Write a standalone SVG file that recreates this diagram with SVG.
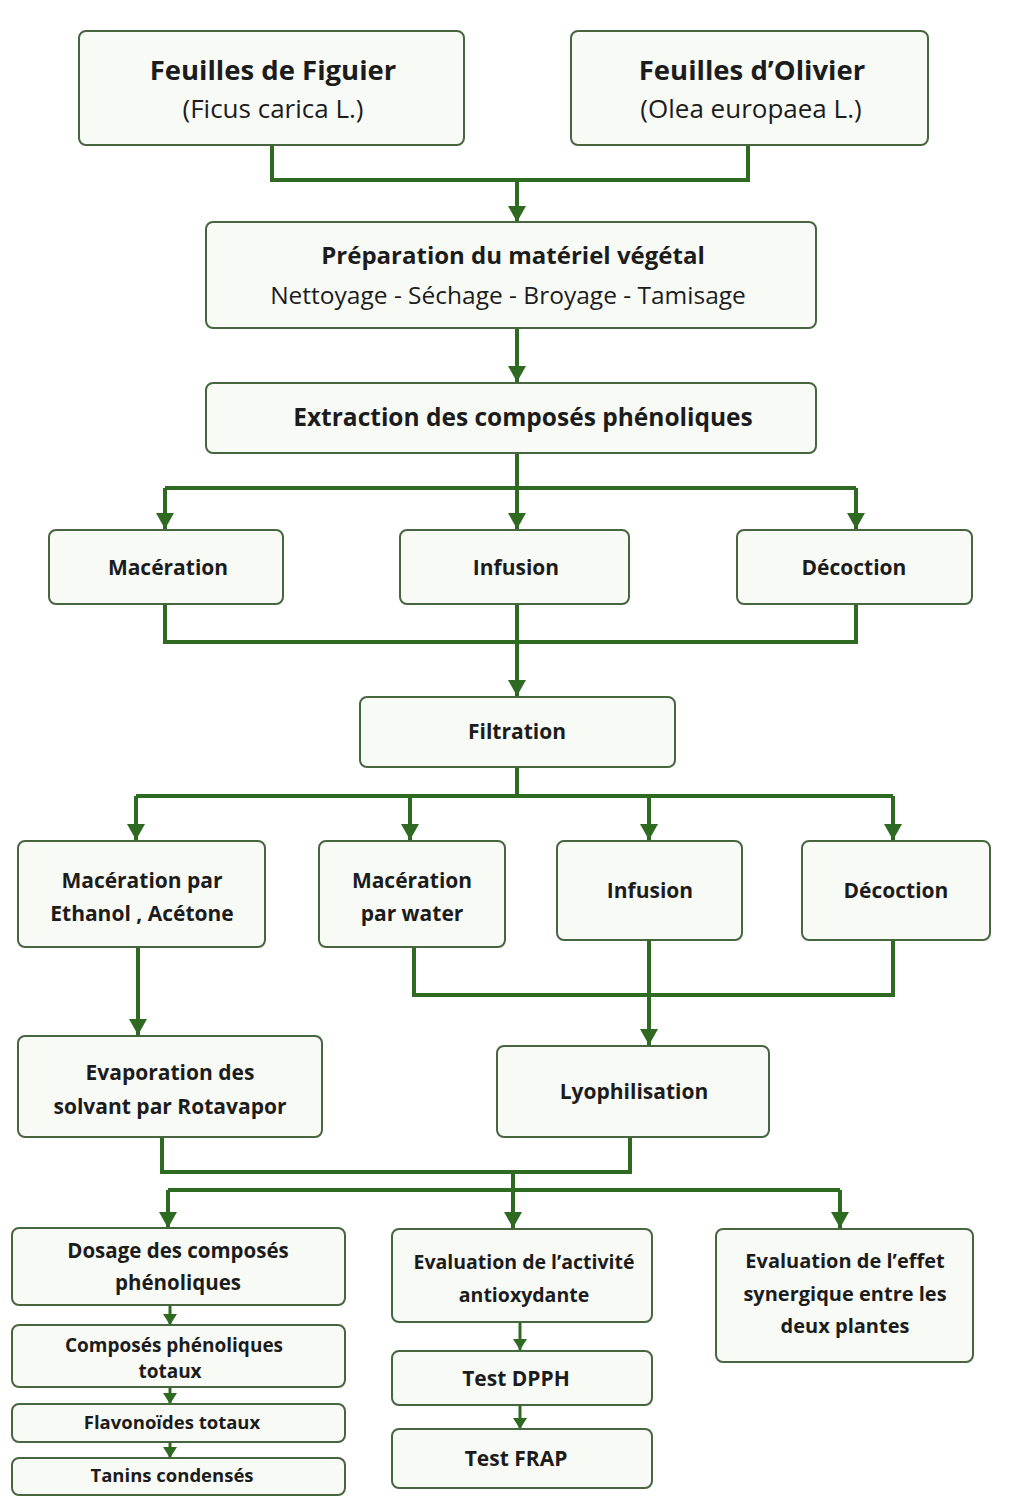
<svg xmlns="http://www.w3.org/2000/svg" width="1017" height="1497" viewBox="0 0 1017 1497">
<style>
.box{fill:#f8faf6;stroke:#476640;stroke-width:2}
.t{font-family:"Open Sans",Lato,"Liberation Sans",sans-serif;fill:#1c1c1c;text-anchor:middle}
.b{font-weight:bold}
.c{fill:none;stroke:#2f6a22;stroke-width:4}
.cs{fill:none;stroke:#2f6a22;stroke-width:3}
</style>
<defs>
<marker id="ah" markerUnits="userSpaceOnUse" markerWidth="16" markerHeight="18" viewBox="0 0 16 18" refX="16" refY="9" orient="auto"><path d="M0,0 L16,9 L0,18 z" fill="#2f6a22"/></marker>
<marker id="as" markerUnits="userSpaceOnUse" markerWidth="11" markerHeight="14" viewBox="0 0 11 14" refX="11" refY="7" orient="auto"><path d="M0,0 L11,7 L0,14 z" fill="#2f6a22"/></marker>
</defs>
<rect width="1017" height="1497" fill="#ffffff"/>
<g id="connectors">
<path class="c" d="M272,145 V180 H748 V145"/>
<path class="c" d="M517,180 V222" marker-end="url(#ah)"/>
<path class="c" d="M517,328 V382" marker-end="url(#ah)"/>
<path class="c" d="M517,453 V488"/>
<path class="c" d="M165,488 H856"/>
<path class="c" d="M165,488 V529" marker-end="url(#ah)"/>
<path class="c" d="M517,488 V529" marker-end="url(#ah)"/>
<path class="c" d="M856,488 V529" marker-end="url(#ah)"/>
<path class="c" d="M165,604 V642 H856 V604"/>
<path class="c" d="M517,604 V696" marker-end="url(#ah)"/>
<path class="c" d="M517,767 V796"/>
<path class="c" d="M136,796 H893"/>
<path class="c" d="M136,796 V840" marker-end="url(#ah)"/>
<path class="c" d="M410,796 V840" marker-end="url(#ah)"/>
<path class="c" d="M649,796 V840" marker-end="url(#ah)"/>
<path class="c" d="M893,796 V840" marker-end="url(#ah)"/>
<path class="c" d="M138,947 V1035" marker-end="url(#ah)"/>
<path class="c" d="M414,947 V995 H893 V940"/>
<path class="c" d="M649,940 V1045" marker-end="url(#ah)"/>
<path class="c" d="M162,1137 V1172 H630 V1137"/>
<path class="c" d="M513,1172 V1190"/>
<path class="c" d="M168,1190 H840"/>
<path class="c" d="M168,1190 V1228" marker-end="url(#ah)"/>
<path class="c" d="M513,1190 V1228" marker-end="url(#ah)"/>
<path class="c" d="M840,1190 V1228" marker-end="url(#ah)"/>
<path class="cs" d="M170,1305 V1325" marker-end="url(#as)"/>
<path class="cs" d="M170,1387 V1404" marker-end="url(#as)"/>
<path class="cs" d="M170,1442 V1458" marker-end="url(#as)"/>
<path class="cs" d="M520,1322 V1350" marker-end="url(#as)"/>
<path class="cs" d="M520,1405 V1429" marker-end="url(#as)"/>
</g>
<g id="figuier"><rect class="box" x="79" y="31" width="385" height="114" rx="7"/><text class="t b" x="273" y="80" font-size="27.5">Feuilles de Figuier</text><text class="t" x="273" y="118" font-size="26">(Ficus carica L.)</text></g>
<g id="olivier"><rect class="box" x="571" y="31" width="357" height="114" rx="7"/><text class="t b" x="752" y="80" font-size="27.5">Feuilles d’Olivier</text><text class="t" x="751" y="118" font-size="26">(Olea europaea L.)</text></g>
<g id="preparation"><rect class="box" x="206" y="222" width="610" height="106" rx="7"/><text class="t b" x="513" y="264" font-size="24">Préparation du matériel végétal</text><text class="t" x="508" y="304" font-size="24.5">Nettoyage - Séchage - Broyage - Tamisage</text></g>
<g id="extraction"><rect class="box" x="206" y="383" width="610" height="70" rx="7"/><text class="t b" x="523" y="426" font-size="24.5">Extraction des composés phénoliques</text></g>
<g id="maceration1"><rect class="box" x="49" y="530" width="234" height="74" rx="7"/><text class="t b" x="168" y="575" font-size="21">Macération</text></g>
<g id="infusion1"><rect class="box" x="400" y="530" width="229" height="74" rx="7"/><text class="t b" x="516" y="575" font-size="21">Infusion</text></g>
<g id="decoction1"><rect class="box" x="737" y="530" width="235" height="74" rx="7"/><text class="t b" x="854" y="575" font-size="21">Décoction</text></g>
<g id="filtration"><rect class="box" x="360" y="697" width="315" height="70" rx="7"/><text class="t b" x="517" y="739" font-size="21">Filtration</text></g>
<g id="maceration-ethanol"><rect class="box" x="18" y="841" width="247" height="106" rx="7"/><text class="t b" x="142" y="888" font-size="21">Macération par</text><text class="t b" x="142" y="921" font-size="21">Ethanol , Acétone</text></g>
<g id="maceration-water"><rect class="box" x="319" y="841" width="186" height="106" rx="7"/><text class="t b" x="412" y="888" font-size="21">Macération</text><text class="t b" x="412" y="921" font-size="21">par water</text></g>
<g id="infusion2"><rect class="box" x="557" y="841" width="185" height="99" rx="7"/><text class="t b" x="650" y="898" font-size="21">Infusion</text></g>
<g id="decoction2"><rect class="box" x="802" y="841" width="188" height="99" rx="7"/><text class="t b" x="896" y="898" font-size="21">Décoction</text></g>
<g id="evaporation"><rect class="box" x="18" y="1036" width="304" height="101" rx="7"/><text class="t b" x="170" y="1080" font-size="21">Evaporation des</text><text class="t b" x="170" y="1114" font-size="21">solvant par Rotavapor</text></g>
<g id="lyophilisation"><rect class="box" x="497" y="1046" width="272" height="91" rx="7"/><text class="t b" x="634" y="1099" font-size="21">Lyophilisation</text></g>
<g id="dosage"><rect class="box" x="12" y="1228" width="333" height="77" rx="7"/><text class="t b" x="178" y="1258" font-size="20.5">Dosage des composés</text><text class="t b" x="178" y="1290" font-size="20.5">phénoliques</text></g>
<g id="composes-totaux"><rect class="box" x="12" y="1325" width="333" height="62" rx="7"/><text class="t b" x="174" y="1352" font-size="19">Composés phénoliques</text><text class="t b" x="170" y="1378" font-size="19">totaux</text></g>
<g id="flavonoides"><rect class="box" x="12" y="1404" width="333" height="38" rx="7"/><text class="t b" x="172" y="1429" font-size="18.5">Flavonoïdes totaux</text></g>
<g id="tanins"><rect class="box" x="12" y="1458" width="333" height="37" rx="7"/><text class="t b" x="172" y="1482" font-size="18.5">Tanins condensés</text></g>
<g id="activite"><rect class="box" x="392" y="1229" width="260" height="93" rx="7"/><text class="t b" x="524" y="1269" font-size="19.5">Evaluation de l’activité</text><text class="t b" x="524" y="1302" font-size="19.5">antioxydante</text></g>
<g id="dpph"><rect class="box" x="392" y="1351" width="260" height="54" rx="7"/><text class="t b" x="516" y="1386" font-size="21">Test DPPH</text></g>
<g id="frap"><rect class="box" x="392" y="1429" width="260" height="59" rx="7"/><text class="t b" x="516" y="1466" font-size="21">Test FRAP</text></g>
<g id="synergie"><rect class="box" x="716" y="1229" width="257" height="133" rx="7"/><text class="t b" x="845" y="1268" font-size="20">Evaluation de l’effet</text><text class="t b" x="845" y="1301" font-size="20">synergique entre les</text><text class="t b" x="845" y="1333" font-size="20">deux plantes</text></g>
</svg>
